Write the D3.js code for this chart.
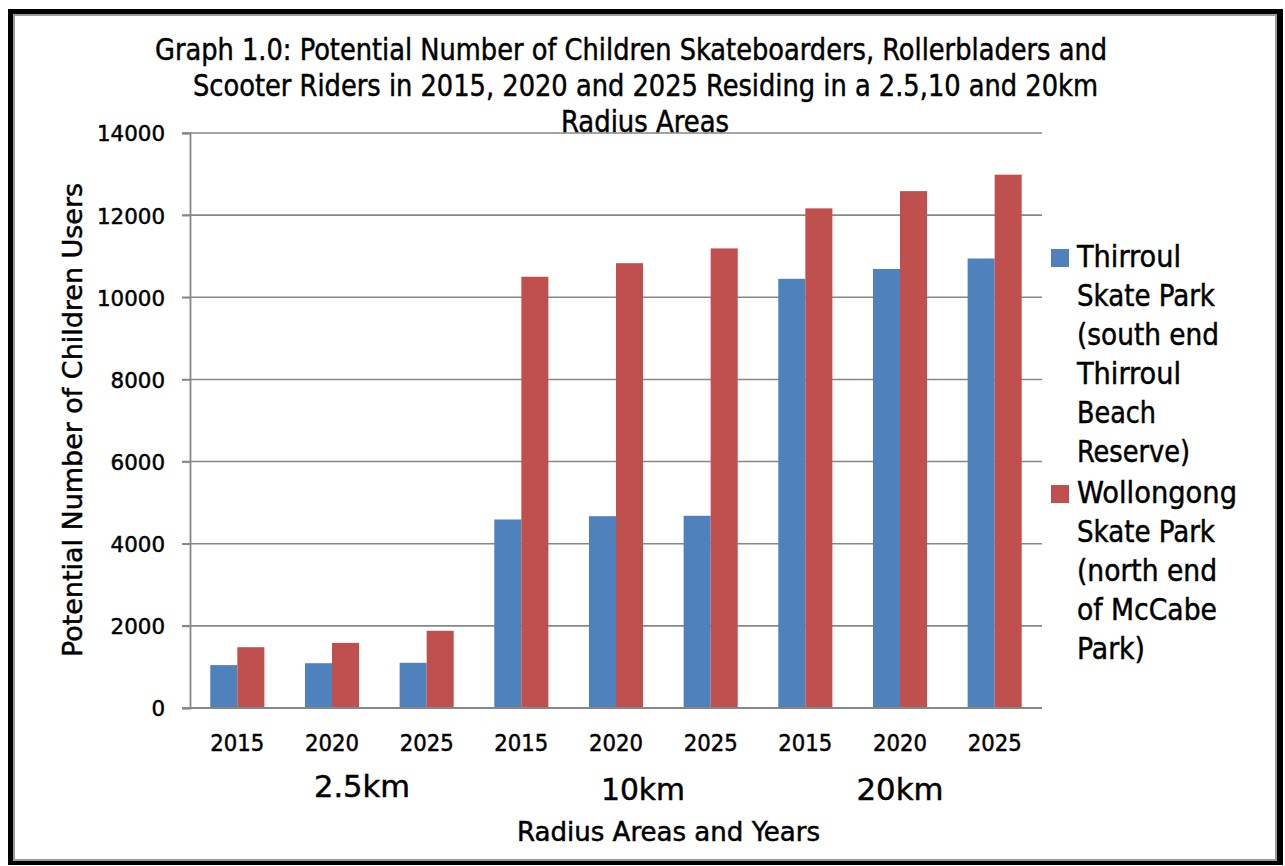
<!DOCTYPE html>
<html><head><meta charset="utf-8">
<script src="https://cdn.jsdelivr.net/npm/d3@7"></script>
<style>
html,body{margin:0;padding:0;background:#fff;}
svg{display:block;}
text{font-family:"Liberation Sans Narrow","DejaVu Sans Condensed","DejaVu Sans",sans-serif;fill:#000;stroke:#000;stroke-width:0.45px;}
</style></head>
<body><svg id="c" width="1285" height="866"></svg>
<script>
const categories = ["2015","2020","2025","2015","2020","2025","2015","2020","2025"];
const regions = ["2.5km","10km","20km"];
const seriesNames = ["Thirroul Skate Park (south end Thirroul Beach Reserve)", "Wollongong Skate Park (north end of McCabe Park)"];
const thirroul = [1045, 1090, 1100, 4590, 4670, 4680, 10450, 10690, 10945];
const wollongong = [1480, 1585, 1880, 10500, 10830, 11190, 12165, 12585, 12985];
const yTicks = [0,2000,4000,6000,8000,10000,12000,14000];
const titleLines = ["Graph 1.0: Potential Number of Children Skateboarders, Rollerbladers and",
  "Scooter Riders in 2015, 2020 and 2025 Residing in a 2.5,10 and 20km",
  "Radius Areas"];
const legendLines = [["Thirroul","Skate Park","(south end","Thirroul","Beach","Reserve)"],
  ["Wollongong","Skate Park","(north end","of McCabe","Park)"]];
const colors = ["#4F81BD","#C0504D"];

const svg = d3.select("#c");
// frame
svg.append("rect").attr("x",8).attr("y",9).attr("width",1275).attr("height",856).attr("fill","#000");
svg.append("rect").attr("x",13).attr("y",14).attr("width",1264).attr("height",847).attr("fill","#9a9a9a");
svg.append("rect").attr("x",15).attr("y",16).attr("width",1260).attr("height",843).attr("fill","#fff");

const L=190, R=1042, T=133, B=708;
const x = d3.scaleBand().domain(d3.range(categories.length)).range([L,R]).paddingInner(1.5/3.5).paddingOuter(0.75/3.5);
const xs = d3.scaleBand().domain([0,1]).range([0,x.bandwidth()]);
const y = d3.scaleLinear().domain([0,14000]).range([B,T]);

function fit(sel,w){ sel.attr("textLength",w).attr("lengthAdjust","spacingAndGlyphs"); return sel; }

// gridlines
const grid = svg.append("g");
grid.selectAll("line").data(yTicks).join("line")
  .attr("x1",182).attr("x2",R).attr("y1",d=>y(d)).attr("y2",d=>y(d))
  .attr("stroke","#878787").attr("stroke-width",1.6);

// y axis
const yAxis = svg.append("g").attr("transform",`translate(${L},0)`)
  .call(d3.axisLeft(y).tickValues(yTicks).tickSize(8).tickPadding(17).tickFormat(d3.format("d")));
yAxis.select(".domain").attr("stroke","#878787").attr("stroke-width",1.8);
yAxis.selectAll(".tick line").attr("stroke","#878787").attr("stroke-width",1.6);
yAxis.selectAll(".tick text").attr("font-size",22).attr("dy","0.36em")
  .style("font-family",'"Liberation Sans Narrow","DejaVu Sans Condensed","DejaVu Sans",sans-serif')
  .each(function(d){ fit(d3.select(this), String(d).length*13.6); });

// bars
const series = [thirroul, wollongong];
series.forEach((vals,si)=>{
  svg.append("g").selectAll("rect").data(vals).join("rect")
    .attr("x",(d,i)=>x(i)+xs(si)).attr("width",xs.bandwidth())
    .attr("y",d=>y(d)).attr("height",d=>B-y(d)).attr("fill",colors[si]);
});

// x axis
const xAxis = svg.append("g").attr("transform",`translate(0,${B})`)
  .call(d3.axisBottom(x).tickSize(0).tickPadding(27).tickFormat(i=>categories[i]));
xAxis.select(".domain").attr("stroke","#878787").attr("stroke-width",1.8).attr("d",`M182,0H${R}`);
xAxis.selectAll(".tick text").attr("font-size",23).attr("dy","0.71em")
  .style("font-family",'"Liberation Sans Narrow","DejaVu Sans Condensed","DejaVu Sans",sans-serif')
  .each(function(){ fit(d3.select(this),54); });

// region labels
const regionDx = [30, 27, 0];
const regionW = [96, 84, 87];
const regionBase = [797, 800, 800];
regions.forEach((r,k)=>{
  const c = x(k*3+1)+x.bandwidth()/2 + regionDx[k];
  fit(svg.append("text").attr("x",c-regionW[k]/2).attr("y",regionBase[k]).attr("font-size",31).text(r), regionW[k]);
});

// axis titles
fit(svg.append("text").attr("x",517).attr("y",841).attr("font-size",26).text("Radius Areas and Years"),303);
fit(svg.append("text").attr("transform","translate(82,657) rotate(-90)").attr("font-size",27)
  .text("Potential Number of Children Users"),474);

// title
const tX=[155,193,561], tW=[952,905,168], tY=[60,96,132];
titleLines.forEach((t,i)=>{
  fit(svg.append("text").attr("x",tX[i]).attr("y",tY[i]).attr("font-size",30).text(t), tW[i]);
});

// legend
const legW = [[104,138,142,104,79,113],[160,138,140,140,68]];
const legY0 = [267, 503];
legendLines.forEach((lines,si)=>{
  svg.append("rect").attr("x",1051).attr("y",legY0[si]-18).attr("width",18).attr("height",18).attr("fill",colors[si]);
  lines.forEach((ln,j)=>{
    fit(svg.append("text").attr("x",1077).attr("y",legY0[si]+j*39).attr("font-size",30).text(ln), legW[si][j]);
  });
});
</script></body></html>
